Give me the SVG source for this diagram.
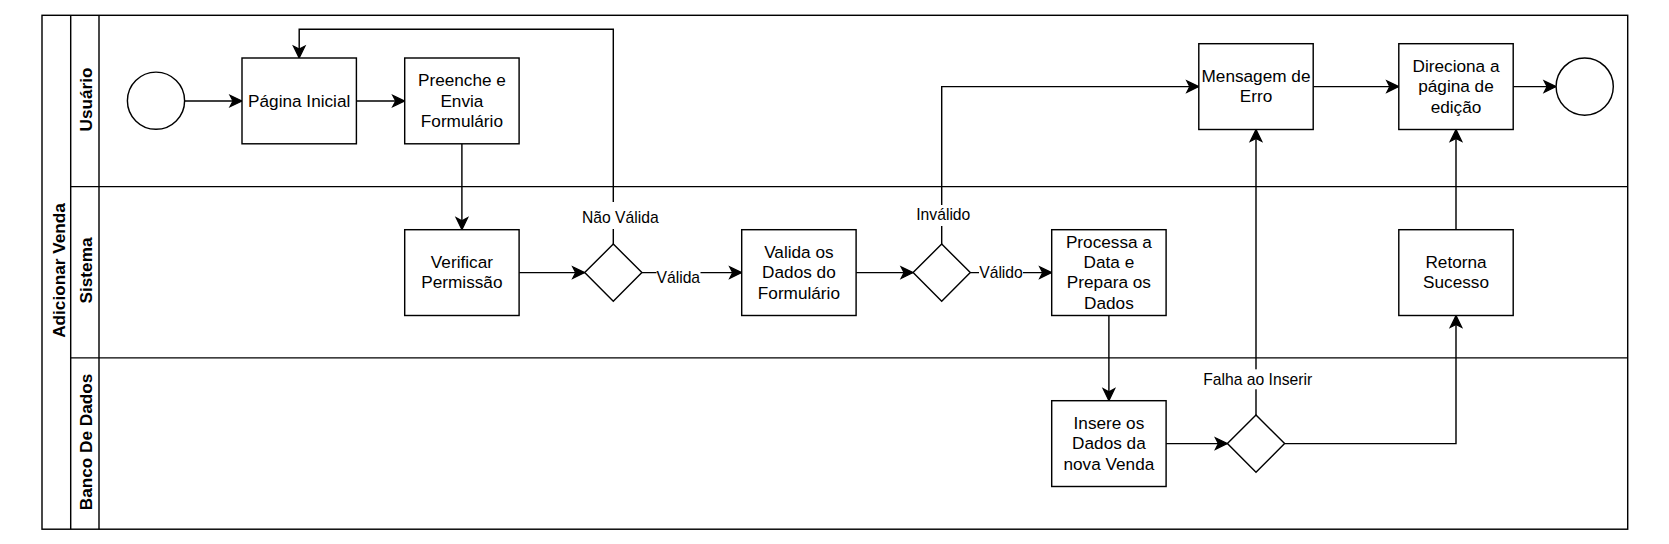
<svg xmlns="http://www.w3.org/2000/svg" width="1669" height="544" viewBox="0 0 1669 544">
<style>
.lane{fill:none;stroke:#000;stroke-width:1.43}
.box{fill:#fff;stroke:#000;stroke-width:1.43}
.t{font-family:"Liberation Sans",Arial,sans-serif;font-size:17.2px;fill:#000;text-anchor:middle}
.l{font-family:"Liberation Sans",Arial,sans-serif;font-size:15.7px;fill:#000;text-anchor:middle}
.h{font-family:"Liberation Sans",Arial,sans-serif;font-size:17.2px;font-weight:bold;fill:#000;text-anchor:middle}
.e{fill:none;stroke:#000;stroke-width:1.43;marker-end:url(#arr)}
.lb{fill:#fff;stroke:none}
</style>
<defs>
<marker id="arr" markerUnits="userSpaceOnUse" viewBox="-15 -8 17 16" refX="0" refY="0" markerWidth="17" markerHeight="16" orient="auto">
<path d="M0,0 L-12,-5.8 L-9,0 L-12,5.8 Z" fill="#000" stroke="#000" stroke-width="1.2" stroke-linejoin="miter"/>
</marker>
</defs>
<rect width="1669" height="544" fill="#fff"/>
<g id="pool">
<rect class="lane" x="42" y="15.3" width="1585.7" height="513.9"/>
<line class="lane" x1="70.7" y1="15.3" x2="70.7" y2="529.2"/>
<line class="lane" x1="99" y1="15.3" x2="99" y2="529.2"/>
<line class="lane" x1="70.7" y1="186.6" x2="1627.7" y2="186.6"/>
<line class="lane" x1="70.7" y1="357.9" x2="1627.7" y2="357.9"/>
<text class="h" transform="translate(64.5,270.5) rotate(-90)">Adicionar Venda</text>
</g>
<g id="lane-usuario"><text class="h" transform="translate(91.8,99.5) rotate(-90)">Usuário</text></g>
<g id="lane-sistema"><text class="h" transform="translate(91.8,270.5) rotate(-90)">Sistema</text></g>
<g id="lane-banco"><text class="h" transform="translate(91.8,442) rotate(-90)">Banco De Dados</text></g>

<g id="connectors">
<path class="e" d="M184.6,101 L242,101"/>
<path class="e" d="M356.4,101 L404.7,101"/>
<path class="e" d="M461.9,144 L461.9,229.7"/>
<path class="e" d="M519.1,272.6 L584.7,272.6"/>
<path class="e" d="M613.3,244 L613.3,29.3 L299.2,29.3 L299.2,58"/>
<path class="e" d="M641.9,272.6 L741.7,272.6"/>
<path class="e" d="M856.1,272.6 L913.1,272.6"/>
<path class="e" d="M941.7,244 L941.7,86.6 L1198.8,86.6"/>
<path class="e" d="M970.3,272.6 L1051.7,272.6"/>
<path class="e" d="M1108.9,315.5 L1108.9,400.7"/>
<path class="e" d="M1166.1,443.6 L1227.4,443.6"/>
<path class="e" d="M1256,415 L1256,129.5"/>
<path class="e" d="M1284.6,443.6 L1456,443.6 L1456,315.5"/>
<path class="e" d="M1456,229.7 L1456,129.5"/>
<path class="e" d="M1313.2,86.6 L1398.8,86.6"/>
<path class="e" d="M1513.2,86.6 L1556.1,86.6"/>
<rect class="lb" x="582" y="202" width="77" height="27"/>
<text class="l" x="620.3" y="223.3">Não Válida</text>
<rect class="lb" x="656.5" y="265" width="44" height="22"/>
<text class="l" x="678.3" y="283.3">Válida</text>
<rect class="lb" x="916" y="205" width="55" height="21"/>
<text class="l" x="943.3" y="220">Inválido</text>
<rect class="lb" x="979" y="262" width="44" height="20"/>
<text class="l" x="1001" y="277.7">Válido</text>
<rect class="lb" x="1203" y="369.3" width="110" height="20"/>
<text class="l" x="1257.7" y="385">Falha ao Inserir</text>
</g>

<g id="start"><circle class="box" cx="156" cy="100.7" r="28.6"/></g>
<g id="pagina-inicial"><rect class="box" x="242" y="58" width="114.4" height="85.8"/>
<text class="t" x="299.2" y="106.5">Página Inicial</text></g>
<g id="preenche"><rect class="box" x="404.7" y="58" width="114.4" height="85.8"/>
<text class="t" x="461.9" y="86.3">Preenche e</text><text class="t" x="461.9" y="106.7">Envia</text><text class="t" x="461.9" y="127.1">Formulário</text></g>
<g id="verificar"><rect class="box" x="404.7" y="229.7" width="114.4" height="85.8"/>
<text class="t" x="461.9" y="267.9">Verificar</text><text class="t" x="461.9" y="288.3">Permissão</text></g>
<g id="d1"><polygon class="box" points="613.3,244 641.9,272.6 613.3,301.2 584.7,272.6"/></g>
<g id="valida"><rect class="box" x="741.7" y="229.7" width="114.4" height="85.8"/>
<text class="t" x="798.9" y="257.7">Valida os</text><text class="t" x="798.9" y="278.1">Dados do</text><text class="t" x="798.9" y="298.5">Formulário</text></g>
<g id="d2"><polygon class="box" points="941.7,244 970.3,272.6 941.7,301.2 913.1,272.6"/></g>
<g id="processa"><rect class="box" x="1051.7" y="229.7" width="114.4" height="85.8"/>
<text class="t" x="1108.9" y="247.5">Processa a</text><text class="t" x="1108.9" y="267.9">Data e</text><text class="t" x="1108.9" y="288.3">Prepara os</text><text class="t" x="1108.9" y="308.7">Dados</text></g>
<g id="insere"><rect class="box" x="1051.7" y="400.7" width="114.4" height="85.8"/>
<text class="t" x="1108.9" y="428.7">Insere os</text><text class="t" x="1108.9" y="449.1">Dados da</text><text class="t" x="1108.9" y="469.5">nova Venda</text></g>
<g id="d3"><polygon class="box" points="1256,415 1284.6,443.6 1256,472.2 1227.4,443.6"/></g>
<g id="mensagem"><rect class="box" x="1198.8" y="43.7" width="114.4" height="85.8"/>
<text class="t" x="1256" y="82">Mensagem de</text><text class="t" x="1256" y="102.4">Erro</text></g>
<g id="direciona"><rect class="box" x="1398.8" y="43.7" width="114.4" height="85.8"/>
<text class="t" x="1456" y="71.8">Direciona a</text><text class="t" x="1456" y="92.2">página de</text><text class="t" x="1456" y="112.6">edição</text></g>
<g id="retorna"><rect class="box" x="1398.8" y="229.7" width="114.4" height="85.8"/>
<text class="t" x="1456" y="267.9">Retorna</text><text class="t" x="1456" y="288.3">Sucesso</text></g>
<g id="end"><circle class="box" cx="1584.7" cy="86.6" r="28.6"/></g>
</svg>
